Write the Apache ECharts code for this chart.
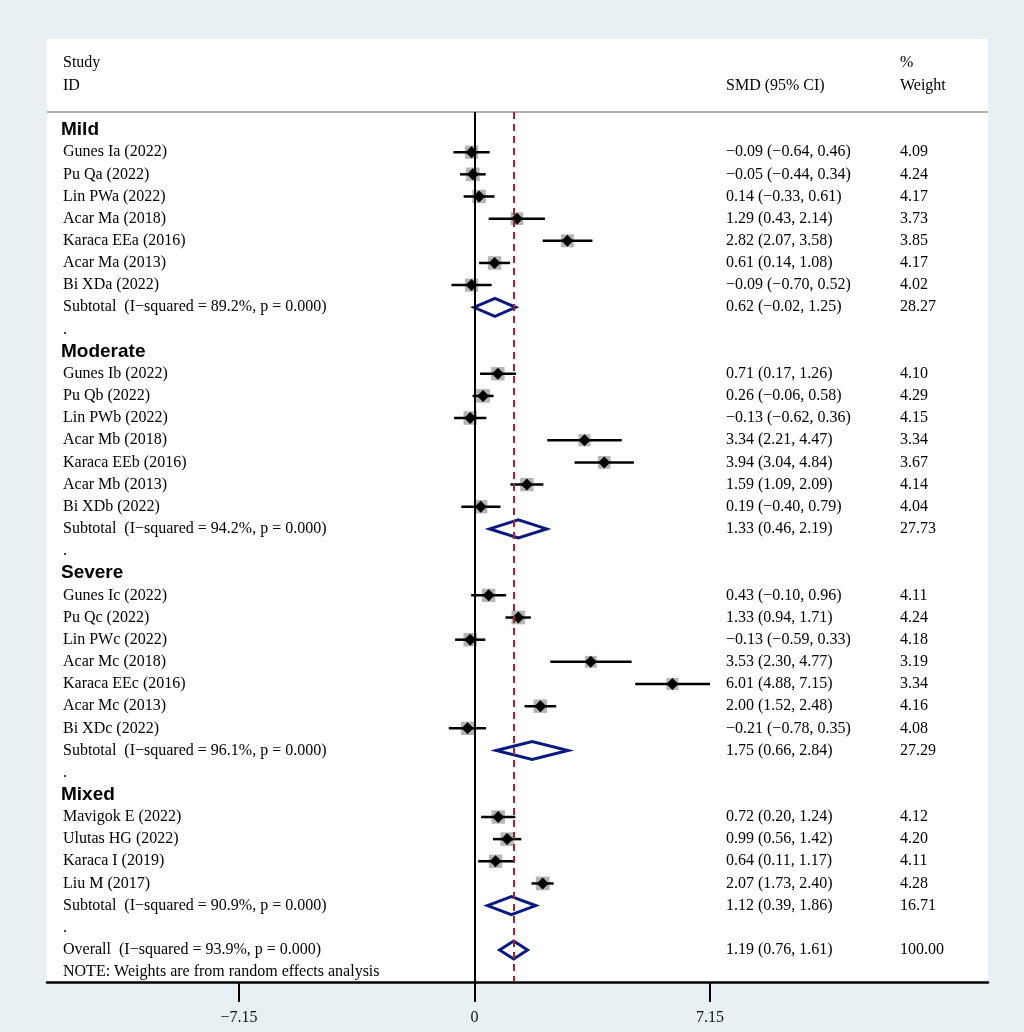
<!DOCTYPE html>
<html><head><meta charset="utf-8">
<script src="https://cdn.jsdelivr.net/npm/echarts@6/dist/echarts.min.js"></script>
<style>html,body{margin:0;padding:0;background:#e9f0f3}#c{width:1024px;height:1032px}</style>
</head><body><div id="c"></div>
<script>
const groups = ['Mild', 'Moderate', 'Severe', 'Mixed'];
const studyNames = [
  'Gunes Ia (2022)', 'Pu Qa (2022)', 'Lin PWa (2022)', 'Acar Ma (2018)', 'Karaca EEa (2016)', 'Acar Ma (2013)', 'Bi XDa (2022)',
  'Gunes Ib (2022)', 'Pu Qb (2022)', 'Lin PWb (2022)', 'Acar Mb (2018)', 'Karaca EEb (2016)', 'Acar Mb (2013)', 'Bi XDb (2022)',
  'Gunes Ic (2022)', 'Pu Qc (2022)', 'Lin PWc (2022)', 'Acar Mc (2018)', 'Karaca EEc (2016)', 'Acar Mc (2013)', 'Bi XDc (2022)',
  'Mavigok E (2022)', 'Ulutas HG (2022)', 'Karaca I (2019)', 'Liu M (2017)'
];
const studyGroup = [0,0,0,0,0,0,0, 1,1,1,1,1,1,1, 2,2,2,2,2,2,2, 3,3,3,3];
const smd    = [-0.09,-0.05, 0.14,1.29,2.82,0.61,-0.09,  0.71, 0.26,-0.13,3.34,3.94,1.59, 0.19,  0.43,1.33,-0.13,3.53,6.01,2.00,-0.21,  0.72,0.99,0.64,2.07];
const ciLow  = [-0.64,-0.44,-0.33,0.43,2.07,0.14,-0.70,  0.17,-0.06,-0.62,2.21,3.04,1.09,-0.40, -0.10,0.94,-0.59,2.30,4.88,1.52,-0.78,  0.20,0.56,0.11,1.73];
const ciHigh = [ 0.46, 0.34, 0.61,2.14,3.58,1.08, 0.52,  1.26, 0.58, 0.36,4.47,4.84,2.09, 0.79,  0.96,1.71, 0.33,4.77,7.15,2.48, 0.35,  1.24,1.42,1.17,2.40];
const weights = [4.09,4.24,4.17,3.73,3.85,4.17,4.02,  4.10,4.29,4.15,3.34,3.67,4.14,4.04,  4.11,4.24,4.18,3.19,3.34,4.16,4.08,  4.12,4.20,4.11,4.28];
const subtotalI2 = ['89.2', '94.2', '96.1', '90.9'];
const subtotalSmd = [0.62, 1.33, 1.75, 1.12];
const subtotalLow = [-0.02, 0.46, 0.66, 0.39];
const subtotalHigh = [1.25, 2.19, 2.84, 1.86];
const subtotalWeight = ['28.27', '27.73', '27.29', '16.71'];
const overallI2 = '93.9';
const overallSmd = 1.19, overallLow = 0.76, overallHigh = 1.61, overallWeight = '100.00';
const xTicks = [-7.15, 0, 7.15];

const fmt = v => (v < 0 ? '\u2212' : '') + Math.abs(v).toFixed(2);
const ciText = (e, l, h) => fmt(e) + ' (' + fmt(l) + ', ' + fmt(h) + ')';

// build rows
const textRows = [];
const studyData = [];
const diamondData = [];
let row = 0;
groups.forEach((g, gi) => {
  textRows.push({row: row, label: g, bold: true});
  row++;
  studyNames.forEach((n, i) => {
    if (studyGroup[i] !== gi) return;
    studyData.push([smd[i], row, ciLow[i], ciHigh[i], weights[i]]);
    textRows.push({row: row, label: n, ci: ciText(smd[i], ciLow[i], ciHigh[i]), w: weights[i].toFixed(2)});
    row++;
  });
  diamondData.push([subtotalSmd[gi], row, subtotalLow[gi], subtotalHigh[gi]]);
  textRows.push({row: row, label: 'Subtotal  (I\u2212squared = ' + subtotalI2[gi] + '%, p = 0.000)',
    ci: ciText(subtotalSmd[gi], subtotalLow[gi], subtotalHigh[gi]), w: subtotalWeight[gi]});
  row++;
  textRows.push({row: row, label: '.'});
  row++;
});
diamondData.push([overallSmd, row, overallLow, overallHigh]);
textRows.push({row: row, label: 'Overall  (I\u2212squared = ' + overallI2 + '%, p = 0.000)',
  ci: ciText(overallSmd, overallLow, overallHigh), w: overallWeight});
row++;
textRows.push({row: row, label: 'NOTE: Weights are from random effects analysis'});

const SERIF = '"Liberation Serif","Times New Roman",serif';
const SANS = '"Liberation Sans",Arial,sans-serif';
const FS = 16;
const COL_CI = 726, COL_W = 900, COL_ID = 63;

const GL = 47, GR = 988, GT = 112, GB = 982;
const X0 = 474.5, PPU = 235.5 / 7.15;
const xMin = -(X0 - GL) / PPU, xMax = (GR - X0) / PPU;
const ROW0 = 130, RSTEP = 22.16;
const yMin = -(ROW0 - GT) / RSTEP, yMax = (GB - ROW0) / RSTEP;

const hdr = (t, x, y) => ({type: 'text', x: x, y: y, style: {text: t, fontFamily: SERIF, fontSize: FS, fill: '#000', verticalAlign: 'middle'}});

const chart = echarts.init(document.getElementById('c'));
chart.setOption({
  backgroundColor: '#e9f0f3',
  animation: false,
  graphic: [
    {type: 'rect', z: -10, shape: {x: GL, y: 39, width: GR - GL, height: GB - 39}, style: {fill: '#ffffff'}},
    {type: 'line', z: 1, shape: {x1: GL, y1: GT, x2: GR, y2: GT}, style: {stroke: '#b0b0b0', lineWidth: 2}},
    hdr('Study', COL_ID, 63), hdr('ID', COL_ID, 86), hdr('SMD (95% CI)', COL_CI, 86),
    hdr('%', COL_W, 63), hdr('Weight', COL_W, 86)
  ],
  grid: {left: GL, right: 1024 - GR, top: GT, bottom: 1032 - GB, containLabel: false},
  xAxis: {
    type: 'value', min: xMin, max: xMax,
    splitLine: {show: false},
    axisLine: {show: true, onZero: false, lineStyle: {color: '#000', width: 2.5}},
    axisTick: {show: true, length: 20, customValues: xTicks, lineStyle: {color: '#000', width: 2}},
    axisLabel: {show: true, customValues: xTicks, margin: 28, color: '#111', fontFamily: SERIF, fontSize: FS,
      formatter: v => (v < 0 ? '\u2212' + Math.abs(v) : String(v))}
  },
  yAxis: {type: 'value', inverse: true, min: yMin, max: yMax, show: false},
  series: [
    {
      type: 'line', data: [], z: 1, silent: true,
      markLine: {
        symbol: 'none', silent: true, label: {show: false},
        data: [
          {xAxis: 0, lineStyle: {color: '#000', width: 2, type: 'solid'}},
          {xAxis: overallSmd, lineStyle: {color: '#a3242e', width: 2, type: [7, 5]}}
        ]
      }
    },
    {
      type: 'custom', z: 3, clip: false,
      data: studyData,
      encode: {x: 0, y: 1},
      renderItem: (params, api) => {
        const p = api.coord([api.value(0), api.value(1)]);
        const lo = api.coord([api.value(2), api.value(1)]);
        const hi = api.coord([api.value(3), api.value(1)]);
        const s = 6.6 * Math.sqrt(api.value(4));
        return {type: 'group', children: [
          {type: 'rect', shape: {x: p[0] - s / 2, y: p[1] - s / 2, width: s, height: s}, style: {fill: '#b4b4b4'}},
          {type: 'line', shape: {x1: lo[0], y1: lo[1], x2: hi[0], y2: hi[1]}, style: {stroke: '#000', lineWidth: 2.5}},
          {type: 'polygon', shape: {points: [[p[0] - 6, p[1]], [p[0], p[1] - 6], [p[0] + 6, p[1]], [p[0], p[1] + 6]]}, style: {fill: '#000'}}
        ]};
      }
    },
    {
      type: 'custom', z: 3, clip: false,
      data: diamondData,
      encode: {x: 0, y: 1},
      renderItem: (params, api) => {
        const p = api.coord([api.value(0), api.value(1)]);
        const lo = api.coord([api.value(2), api.value(1)]);
        const hi = api.coord([api.value(3), api.value(1)]);
        return {type: 'polygon', shape: {points: [[lo[0], p[1]], [p[0], p[1] - 9], [hi[0], p[1]], [p[0], p[1] + 9]]},
          style: {fill: 'none', stroke: '#0c1a7c', lineWidth: 3, lineJoin: 'miter'}};
      }
    },
    {
      type: 'custom', z: 4, clip: false, silent: true,
      data: textRows.map(r => [0, r.row]),
      encode: {x: 0, y: 1},
      renderItem: (params, api) => {
        const r = textRows[params.dataIndex];
        const y = api.coord([0, r.row])[1];
        const ch = [];
        if (r.bold) {
          ch.push({type: 'text', x: 61, y: y, style: {text: r.label, fontFamily: SANS, fontWeight: 'bold', fontSize: 19, fill: '#000', verticalAlign: 'middle'}});
        } else {
          ch.push({type: 'text', x: COL_ID, y: y, style: {text: r.label, fontFamily: SERIF, fontSize: FS, fill: '#000', verticalAlign: 'middle'}});
        }
        if (r.ci) ch.push({type: 'text', x: COL_CI, y: y, style: {text: r.ci, fontFamily: SERIF, fontSize: FS, fill: '#000', verticalAlign: 'middle'}});
        if (r.w) ch.push({type: 'text', x: COL_W, y: y, style: {text: r.w, fontFamily: SERIF, fontSize: FS, fill: '#000', verticalAlign: 'middle'}});
        return {type: 'group', children: ch};
      }
    }
  ]
});
</script>
</body></html>
